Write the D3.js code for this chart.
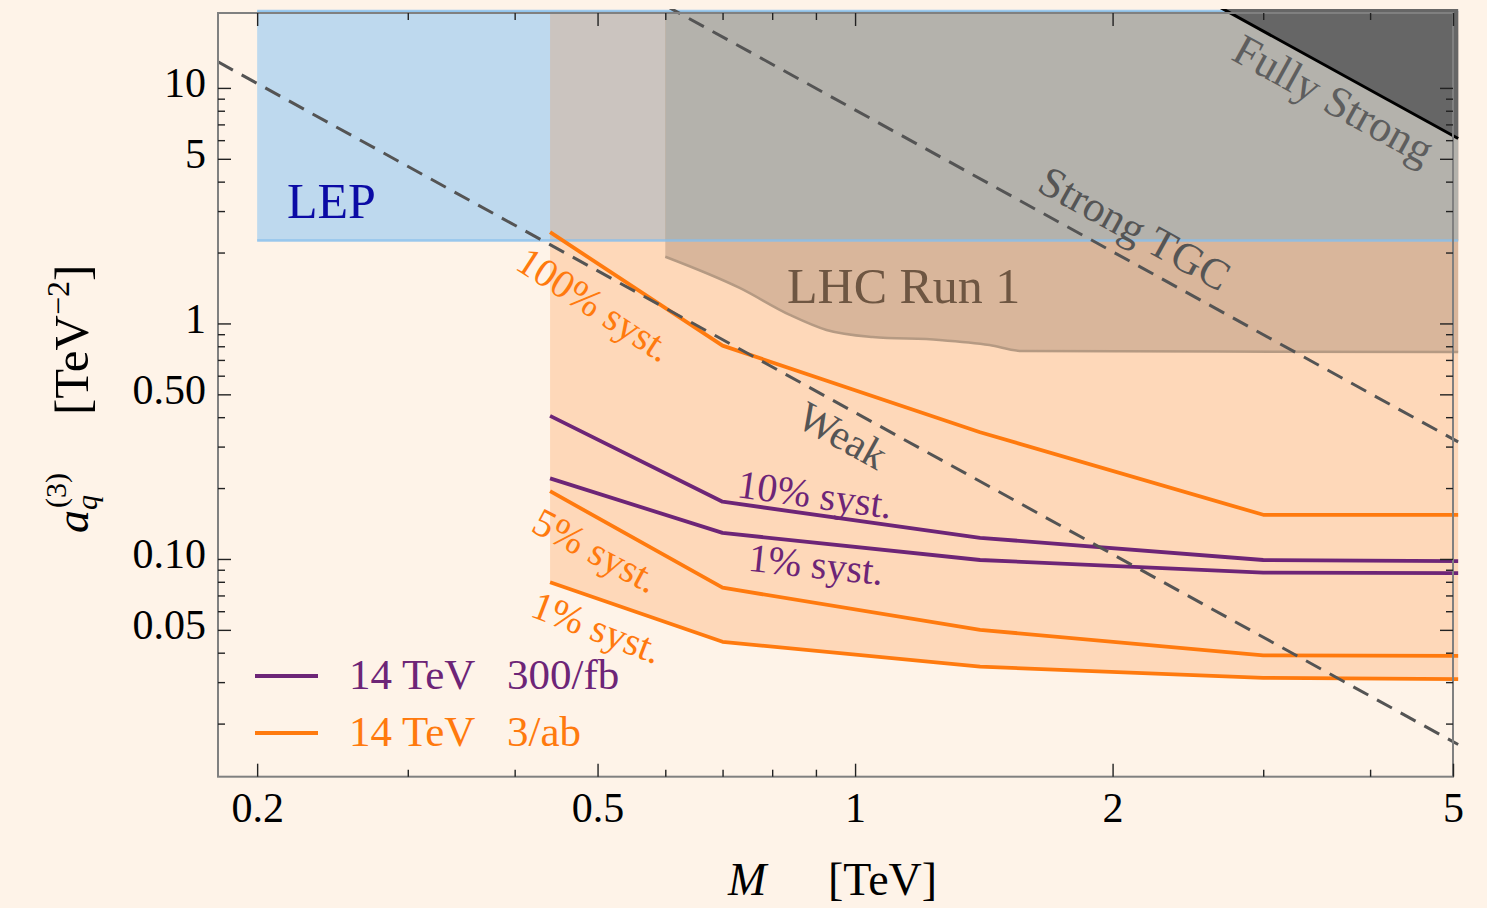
<!DOCTYPE html>
<html>
<head>
<meta charset="utf-8">
<title>a_q(3) reach</title>
<script src="https://d3js.org/d3.v7.min.js"></script>
<style>
  body { margin: 0; background: #fef3e8; }
  svg { display: block; }
  svg text { font-family: "Liberation Serif", "DejaVu Serif", serif; }
</style>
</head>
<body>
<svg id="chart" width="1487" height="908"></svg>
<script>
// mass points of the 14 TeV projections [TeV]
const massPoints = [0.44, 0.7, 1.4, 3, 5.07];
// 14 TeV 3/ab (orange)
const lumi3ab_100 = [2.44, 0.805, 0.345, 0.154, 0.154];
const lumi3ab_5 = [0.194, 0.0755, 0.050, 0.039, 0.0388];
const lumi3ab_1 = [0.0796, 0.0445, 0.0349, 0.0313, 0.0309];
// 14 TeV 300/fb (purple)
const lumi300_10 = [0.405, 0.175, 0.123, 0.099, 0.098];
const lumi300_1 = [0.220, 0.129, 0.099, 0.0875, 0.087];

// LEP bound
const lepStart = 0.2;
const lepBound = 2.25;
// LHC run 1 excluded region, lower edge
const lhcMass = [0.6, 0.733, 0.839, 0.926, 1.048, 1.255, 1.436, 1.569, 5.07];
const lhcBound = [1.92, 1.415, 1.087, 0.938, 0.876, 0.851, 0.81, 0.764, 0.757];
// a ~ 1/M^2 lines, end points
const weakLine = [[0.18, 12.9], [5.07, 0.0163]];
const strongLine = [[0.6, 22.4], [5.07, 0.314]];
const fullyLine = [[2.6, 23.2], [5.07, 6.1]];

const xMajor = [0.2, 0.5, 1, 2, 5];
const xMajorLabels = ["0.2", "0.5", "1", "2", "5"];
const xMinor = [0.3, 0.4, 0.6, 0.7, 0.8, 0.9, 3, 4];
const yMajor = [0.05, 0.1, 0.5, 1, 5, 10];
const yMajorLabels = ["0.05", "0.10", "0.50", "1", "5", "10"];
const yMinor = [0.02, 0.03, 0.04, 0.06, 0.07, 0.08, 0.09, 0.2, 0.3, 0.4, 0.6, 0.7, 0.8, 0.9, 2, 3, 4, 6, 7, 8, 9];

const W = 1487, H = 908;
const orange = "#ff7a0e", purple = "#6d2577";
const xEdge = 5.07, yTop = 21.2;

const svg = d3.select("#chart");
const x = d3.scaleLog().domain([0.18, 5]).range([218, 1453]);
const y = d3.scaleLog().domain([0.0119, 20.8]).range([776.7, 13]);

svg.append("rect").attr("width", W).attr("height", H).attr("fill", "#fef3e8");

svg.append("defs").append("clipPath").attr("id", "plotClip")
    .append("rect")
    .attr("x", x(0.18)).attr("y", 9)
    .attr("width", x(xEdge) - x(0.18) + 1)
    .attr("height", y(0.0119) - 9);

const plot = svg.append("g").attr("clip-path", "url(#plotClip)");

const line = d3.line().x(d => x(d[0])).y(d => y(d[1]));
const smooth = d3.line().x(d => x(d[0])).y(d => y(d[1])).curve(d3.curveMonotoneX);
const zip = (xs, ys) => xs.map((v, i) => [v, ys[i]]);
const box = (x0, y0) => [[x0, y0], [xEdge, y0], [xEdge, yTop], [x0, yTop]];

// 3/ab reach
plot.append("path")
    .attr("d", line(zip(massPoints, lumi3ab_1).concat([[xEdge, yTop], [massPoints[0], yTop]])) + "Z")
    .attr("fill", "#fed8b9");
// LEP
plot.append("path").attr("d", line(box(lepStart, lepBound)) + "Z").attr("fill", "#bed9ee");
plot.append("path").attr("d", line(box(massPoints[0], lepBound)) + "Z").attr("fill", "#cbc4bf");
// LHC run 1
const lhcEdge = smooth(zip(lhcMass, lhcBound));
plot.append("path")
    .attr("d", lhcEdge + "L" + x(xEdge) + "," + y(yTop) + "L" + x(lhcMass[0]) + "," + y(yTop) + "Z")
    .attr("fill", "#d9b69b");
plot.append("path").attr("d", line(box(lhcMass[0], lepBound)) + "Z").attr("fill", "#b4b2ac");

// LEP edges
[lepBound, yTop].forEach(v => {
    plot.append("path")
        .attr("d", line([[lepStart, v], [xEdge, v]]))
        .attr("stroke", "#86bfee").attr("stroke-width", 2.5).attr("stroke-opacity", 0.8)
        .attr("fill", "none");
});

// fully strong
plot.append("path")
    .attr("d", line(fullyLine.concat([[xEdge, 40], [fullyLine[0][0], 40]])) + "Z")
    .attr("fill", "#666666");

plot.append("path").attr("d", lhcEdge)
    .attr("fill", "none").attr("stroke", "#b59a83").attr("stroke-width", 2.5);

// projections
[[lumi300_10, purple], [lumi300_1, purple], [lumi3ab_100, orange], [lumi3ab_5, orange], [lumi3ab_1, orange]]
    .forEach(([vals, col]) => {
        plot.append("path").attr("d", line(zip(massPoints, vals)))
            .attr("fill", "none").attr("stroke", col).attr("stroke-width", 3.8)
            .attr("stroke-linejoin", "round");
    });

[weakLine, strongLine].forEach(pts => {
    plot.append("path").attr("d", line(pts))
        .attr("fill", "none").attr("stroke", "#545454").attr("stroke-width", 3)
        .attr("stroke-dasharray", "17 10");
});

plot.append("path").attr("d", line(fullyLine))
    .attr("fill", "none").attr("stroke", "#000").attr("stroke-width", 3);

// labels in the plot
svg.append("text").attr("x", 287).attr("y", 218).attr("font-size", 50)
    .attr("fill", "#0b0ba5").text("LEP");
svg.append("text").attr("x", 787).attr("y", 303).attr("font-size", 50)
    .attr("fill", "#6e5642").text("LHC Run 1");

const tilted = [
    ["Fully Strong", 1334, 99, 29, 44, "#5e5e5e"],
    ["Strong TGC", 1135, 228, 29, 43, "#555555"],
    ["Weak", 843, 435, 29, 42, "#555555"],
    ["100% syst.", 595, 304, 33, 40, orange],
    ["10% syst.", 815, 494, 8, 40, purple],
    ["1% syst.", 816, 564, 6, 40, purple],
    ["5% syst.", 596, 550, 28, 40, orange],
    ["1% syst.", 597, 627, 21, 40, orange]
];
tilted.forEach(([t, cx, cy, a, fs, col]) => {
    svg.append("text")
        .attr("transform", `translate(${cx},${cy}) rotate(${a})`)
        .attr("text-anchor", "middle").attr("dy", "0.35em")
        .attr("font-size", fs).attr("fill", col).text(t);
});

// legend
const legendRows = [["14 TeV", "300/fb", purple, 676], ["14 TeV", "3/ab", orange, 733]];
legendRows.forEach(([a, b, col, ly]) => {
    svg.append("line").attr("x1", 255).attr("x2", 318).attr("y1", ly).attr("y2", ly)
        .attr("stroke", col).attr("stroke-width", 3.8);
    svg.append("text").attr("x", 349).attr("y", ly + 13).attr("font-size", 43).attr("fill", col).text(a);
    svg.append("text").attr("x", 507).attr("y", ly + 13).attr("font-size", 43).attr("fill", col).text(b);
});

// frame and ticks
const [x0, x1] = x.range(), [y0, y1] = y.range();
svg.append("rect").attr("x", x0).attr("y", y1).attr("width", x1 - x0).attr("height", y0 - y1)
    .attr("fill", "none").attr("stroke", "#808080").attr("stroke-width", 2);

function styleAxis(g) {
    g.select(".domain").remove();
    g.attr("font-family", "Liberation Serif, serif").attr("font-size", 42);
    g.selectAll(".tick line").attr("stroke", "#222").attr("stroke-width", 1.4);
    g.selectAll(".tick text").attr("fill", "#000");
}

svg.append("g").attr("transform", `translate(0,${y0})`)
    .call(d3.axisBottom(x).tickValues(xMajor).tickSize(-13).tickPadding(15)
        .tickFormat((d, i) => xMajorLabels[i]))
    .call(styleAxis);
svg.append("g").attr("transform", `translate(0,${y0})`)
    .call(d3.axisBottom(x).tickValues(xMinor).tickSize(-7).tickFormat(""))
    .call(styleAxis);
svg.append("g").attr("transform", `translate(0,${y1})`)
    .call(d3.axisTop(x).tickValues(xMajor).tickSize(-13).tickFormat(""))
    .call(styleAxis);
svg.append("g").attr("transform", `translate(0,${y1})`)
    .call(d3.axisTop(x).tickValues(xMinor).tickSize(-7).tickFormat(""))
    .call(styleAxis);

svg.append("g").attr("transform", `translate(${x0},0)`)
    .call(d3.axisLeft(y).tickValues(yMajor).tickSize(-13).tickPadding(12)
        .tickFormat((d, i) => yMajorLabels[i]))
    .call(styleAxis)
    .selectAll(".tick text").attr("dy", "0.21em");
svg.append("g").attr("transform", `translate(${x0},0)`)
    .call(d3.axisLeft(y).tickValues(yMinor).tickSize(-7).tickFormat(""))
    .call(styleAxis);
svg.append("g").attr("transform", `translate(${x1},0)`)
    .call(d3.axisRight(y).tickValues(yMajor).tickSize(-13).tickFormat(""))
    .call(styleAxis);
svg.append("g").attr("transform", `translate(${x1},0)`)
    .call(d3.axisRight(y).tickValues(yMinor).tickSize(-7).tickFormat(""))
    .call(styleAxis);

// axis titles
svg.append("text").attr("x", 728).attr("y", 895).attr("font-size", 46)
    .attr("font-style", "italic").text("M");
svg.append("text").attr("x", 828).attr("y", 895).attr("font-size", 46).text("[TeV]");

const yt = svg.append("g").attr("transform", "translate(88,533) rotate(-90)");
yt.append("text").attr("x", 0).attr("y", 0).attr("font-size", 46).attr("font-style", "italic").text("a");
yt.append("text").attr("x", 23).attr("y", 9).attr("font-size", 30).attr("font-style", "italic").text("q");
yt.append("text").attr("x", 25).attr("y", -22).attr("font-size", 30).text("(3)");
const ytl = yt.append("text").attr("x", 118).attr("y", 0).attr("font-size", 49);
ytl.append("tspan").text("[TeV");
ytl.append("tspan").attr("font-size", 32).attr("dy", -19).text("\u22122");
ytl.append("tspan").attr("dy", 19).text("]");
</script>
</body>
</html>
